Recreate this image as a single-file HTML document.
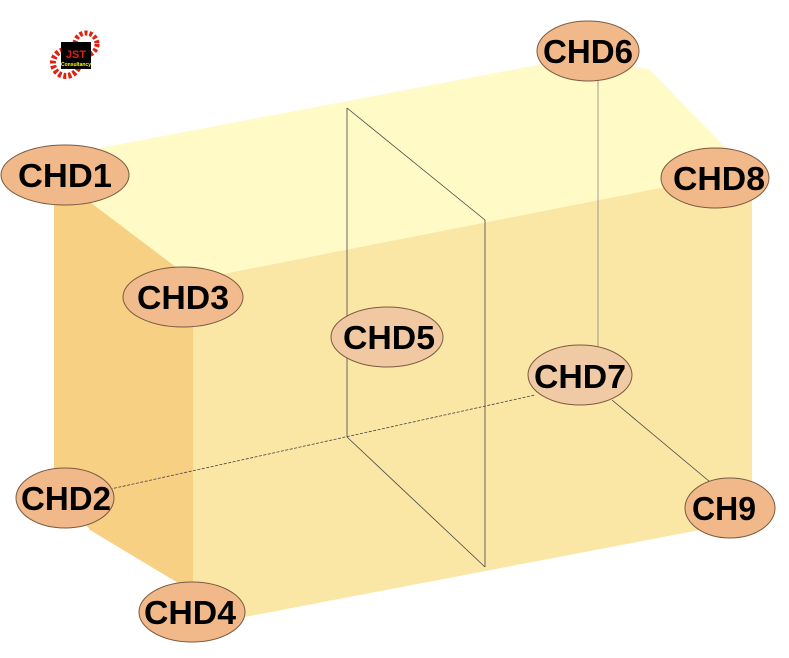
<!DOCTYPE html>
<html><head><meta charset="utf-8"><style>
html,body{margin:0;padding:0;background:#fff;}
svg{display:block;}
text{font-family:"Liberation Sans Narrow","Liberation Sans",sans-serif;font-weight:bold;font-size:33px;fill:#000;}
</style></head><body>
<svg width="789" height="658" viewBox="0 0 789 658" xmlns="http://www.w3.org/2000/svg">
<!-- faces -->
<polygon points="54,175 100,148 590,55 650,70 752,175 233,277 193,280" fill="#fffac6"/>
<polygon points="54,175 193,280 193,592 90,530 54,480" fill="#f8d084"/>
<polygon points="193,280 752,170 752,520 245,617 193,592" fill="#fbe7a5"/>
<!-- inner lines -->
<g stroke="#444" stroke-width="0.8" fill="none">
<line x1="347" y1="108" x2="347" y2="437"/>
<line x1="347" y1="108" x2="485" y2="220"/>
<line x1="485" y1="220" x2="485" y2="567"/>
<line x1="347" y1="437" x2="485" y2="567"/>
<line x1="598" y1="60" x2="598" y2="350" stroke="#888"/>
<line x1="70" y1="498" x2="535" y2="395" stroke-dasharray="3,1.5"/>
<line x1="612" y1="400" x2="722" y2="492"/>
</g>
<!-- logo -->
<g>
<circle cx="86" cy="44" r="11" fill="none" stroke="#e02010" stroke-width="5" stroke-dasharray="3,2"/>
<circle cx="66" cy="63" r="13" fill="none" stroke="#e02010" stroke-width="6" stroke-dasharray="3,2"/>
<rect x="61" y="42" width="30" height="27" fill="#000"/>
<text x="76" y="58" text-anchor="middle" style="font-size:11px;fill:#e02010">JST</text>
<text x="76" y="66" text-anchor="middle" style="font-size:5px;fill:#ff0">Consultancy</text>
</g>
<!-- nodes -->
<g stroke="#7a5a40" stroke-width="1">
<ellipse cx="65" cy="175" rx="64" ry="30" fill="#f1b88a"/>
<ellipse cx="183" cy="297" rx="60" ry="30" fill="#f1bb8d"/>
<ellipse cx="387" cy="337" rx="56" ry="30" fill="#f0c8a2"/>
<ellipse cx="588" cy="51" rx="51" ry="30" fill="#f1b88a"/>
<ellipse cx="715" cy="178" rx="54" ry="30" fill="#f1b88a"/>
<ellipse cx="580" cy="375" rx="52" ry="30" fill="#efcaa4"/>
<ellipse cx="65" cy="498" rx="49" ry="30" fill="#f1b88a"/>
<ellipse cx="730" cy="508" rx="45" ry="30" fill="#f1b88a"/>
<ellipse cx="192" cy="612" rx="53" ry="30" fill="#f1b88a"/>
</g>
<g text-anchor="middle">
<text x="65" y="187" textLength="94" lengthAdjust="spacingAndGlyphs">CHD1</text>
<text x="183" y="309" textLength="92" lengthAdjust="spacingAndGlyphs">CHD3</text>
<text x="389" y="349" textLength="92" lengthAdjust="spacingAndGlyphs">CHD5</text>
<text x="588" y="63" textLength="90" lengthAdjust="spacingAndGlyphs">CHD6</text>
<text x="719" y="190" textLength="92" lengthAdjust="spacingAndGlyphs">CHD8</text>
<text x="580" y="388" textLength="92" lengthAdjust="spacingAndGlyphs">CHD7</text>
<text x="66" y="510" textLength="90" lengthAdjust="spacingAndGlyphs">CHD2</text>
<text x="724" y="520" textLength="64" lengthAdjust="spacingAndGlyphs">CH9</text>
<text x="190" y="624" textLength="92" lengthAdjust="spacingAndGlyphs">CHD4</text>
</g>
</svg>
</body></html>
